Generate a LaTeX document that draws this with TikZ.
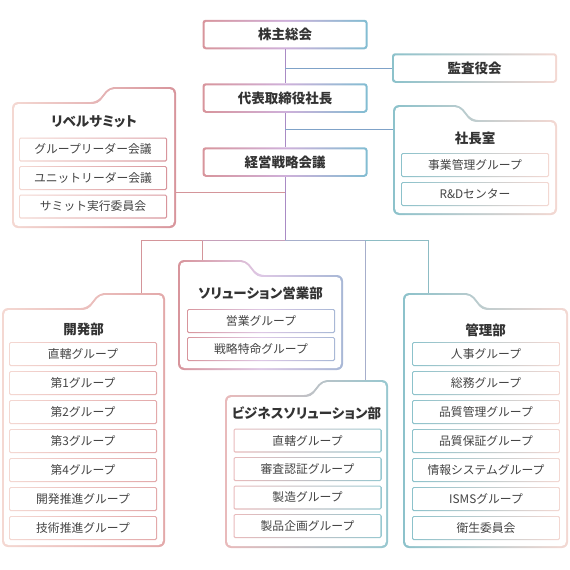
\documentclass[tikz,border=0pt]{standalone}
\usepackage{fontspec}
\setmainfont{Noto Sans CJK JP}
\newfontfamily\jptitle[RawFeature=+palt]{Noto Sans CJK JP}
\usetikzlibrary{positioning}
\definecolor{textgray}{HTML}{333333}
\definecolor{unitgray}{HTML}{444444}
\definecolor{gpink}{HTML}{D8959C}
\definecolor{glav}{HTML}{CFB0DA}
\definecolor{gblue}{HTML}{82BDD2}
\definecolor{gteal}{HTML}{8CC2CB}
\definecolor{gblush}{HTML}{F4D8D2}
\definecolor{grose}{HTML}{E3A9AA}
\definecolor{gsteel}{HTML}{A8B8D6}
\definecolor{linklav}{HTML}{A98BC5}
\definecolor{linkblue}{HTML}{7FA2C8}
\definecolor{linkpink}{HTML}{D4959A}
\definecolor{linkmix}{HTML}{C6A0BA}
\definecolor{linkgray}{HTML}{A6AECB}
\definecolor{linkteal}{HTML}{8DBCC4}
% folder outlines: x1, x2, tab top, slope start, bottom, inset
\newcommand{\tabL}[6]{({#1+#6},{#5-#6}) -- ({#1+#6},{#3+#6}) -- ({#4-0.5*#6},{#3+#6})
  -- ({#4+12-0.5*#6},{#3+15+#6}) -- ({#2-#6},{#3+15+#6}) -- ({#2-#6},{#5-#6}) -- cycle}
\newcommand{\tabR}[6]{({#1+#6},{#5-#6}) -- ({#1+#6},{#3+15+#6}) -- ({#4+0.5*#6},{#3+15+#6})
  -- ({#4+12+0.5*#6},{#3+#6}) -- ({#2-#6},{#3+#6}) -- ({#2-#6},{#5-#6}) -- cycle}

\begin{document}
\begin{tikzpicture}[x=1pt,y=-1pt,
  panel/.style={rounded corners=3pt,minimum width=165pt,minimum height=29.5pt,
    inner sep=0pt,text=textgray,font=\jptitle\bfseries\fontsize{13.5}{16}\selectfont,
    path picture={\fill[white,rounded corners=1.5pt]
      ([shift={(2pt,-2pt)}]path picture bounding box.north west) rectangle
      ([shift={(-2pt,2pt)}]path picture bounding box.south east);}},
  unit/.style={rounded corners=1.5pt,minimum width=148pt,minimum height=24pt,
    inner sep=0pt,text=unitgray,font=\fontsize{11.8}{14}\selectfont,
    path picture={\fill[white,rounded corners=1pt]
      ([shift={(1.1pt,-1.1pt)}]path picture bounding box.north west) rectangle
      ([shift={(-1.1pt,1.1pt)}]path picture bounding box.south east);}},
  head/.style={text=textgray,font=\jptitle\bfseries\fontsize{13.5}{16}\selectfont},
  tri/.style={left color=gpink,right color=gblue,middle color=glav},
  cool/.style={left color=gteal,right color=gblush},
  warm/.style={left color=gblush,right color=gpink},
  soft/.style={left color=gblush,right color=grose},
  dusk/.style={left color=gpink,right color=gsteel,middle color=glav!70},
  haze/.style={left color=grose!80,right color=gteal!90},
  link/.style={line width=1pt}
]
\useasboundingbox (0,0) rectangle (570,570);

% top column
\node[panel,tri] (kabu) at (285,34.5) {株主総会};
\node[panel,tri] (daihyo) at (285,98) {代表取締役社長};
\node[panel,tri] (keiei) at (285,162) {経営戦略会議};
\node[panel,cool] (kansa) at (474.5,68) {監査役会};

% 社長室
\shade[rounded corners=6pt,cool] \tabL{393}{557}{105}{460}{215}{0};
\fill[white,rounded corners=4.5pt] \tabL{393}{557}{105}{460}{215}{2};
\node[head] (office) at (475,138) {社長室};
\node[unit,cool] (office1) at (475,165) {事業管理グループ};
\node[unit,cool] (office2) at (475,194) {R\&Dセンター};

% リベルサミット
\shade[rounded corners=6pt,warm] \tabR{12}{176}{87}{97}{228}{0};
\fill[white,rounded corners=4.5pt] \tabR{12}{176}{87}{97}{228}{2};
\node[head] (summit) at (94,122) {リベルサミット};
\node[unit,warm] (summit1) at (93,149.5) {グループリーダー会議};
\node[unit,warm] (summit2) at (93,178) {ユニットリーダー会議};
\node[unit,warm] (summit3) at (93,206.5) {サミット実行委員会};

% 開発部
\shade[rounded corners=6pt,soft] \tabR{2}{165}{293}{87}{547}{0};
\fill[white,rounded corners=4.5pt] \tabR{2}{165}{293}{87}{547}{2};
\node[head] (dev) at (83.5,329) {開発部};
\node[unit,soft] (dev1) at (83,354) {直轄グループ};
\node[unit,soft] (dev2) at (83,383) {第1グループ};
\node[unit,soft] (dev3) at (83,412) {第2グループ};
\node[unit,soft] (dev4) at (83,441) {第3グループ};
\node[unit,soft] (dev5) at (83,470) {第4グループ};
\node[unit,soft] (dev6) at (83,499) {開発推進グループ};
\node[unit,soft] (dev7) at (83,528) {技術推進グループ};

% ソリューション営業部
\shade[rounded corners=6pt,dusk] \tabL{178}{343}{260}{246}{370}{0};
\fill[white,rounded corners=4.5pt] \tabL{178}{343}{260}{246}{370}{2};
\node[head] (sales) at (260.5,293) {ソリューション営業部};
\node[unit,dusk] (sales1) at (261,321) {営業グループ};
\node[unit,dusk] (sales2) at (261,349) {戦略特命グループ};

% ビジネスソリューション部
\shade[rounded corners=6pt,haze] \tabR{225}{388}{380}{310}{548}{0};
\fill[white,rounded corners=4.5pt] \tabR{225}{388}{380}{310}{548}{2};
\node[head] (biz) at (306.5,413) {ビジネスソリューション部};
\node[unit,haze] (biz1) at (307.5,440.5) {直轄グループ};
\node[unit,haze] (biz2) at (307.5,469) {審査認証グループ};
\node[unit,haze] (biz3) at (307.5,497.5) {製造グループ};
\node[unit,haze] (biz4) at (307.5,526) {製品企画グループ};

% 管理部
\shade[rounded corners=6pt,cool] \tabL{403}{568}{293}{471}{548}{0};
\fill[white,rounded corners=4.5pt] \tabL{403}{568}{293}{471}{548}{2};
\node[head] (mgmt) at (485.5,330) {管理部};
\node[unit,cool] (mgmt1) at (486,354) {人事グループ};
\node[unit,cool] (mgmt2) at (486,383) {総務グループ};
\node[unit,cool] (mgmt3) at (486,412) {品質管理グループ};
\node[unit,cool] (mgmt4) at (486,441) {品質保証グループ};
\node[unit,cool] (mgmt5) at (486,470) {情報システムグループ};
\node[unit,cool] (mgmt6) at (486,499) {ISMSグループ};
\node[unit,cool] (mgmt7) at (486,528) {衛生委員会};

% connectors
\coordinate (officein) at (393,129);
\coordinate (summitin) at (176,192);
\coordinate (bus) at (285,240);
\coordinate (devtab) at (141,293);
\coordinate (salestab) at (202,260);
\coordinate (biztab) at (365,380);
\coordinate (mgmttab) at (428,293);
\draw[link,linklav] (kabu.south) -- (daihyo.north);
\draw[link,linklav] (daihyo.south) -- (keiei.north);
\draw[link,linklav] (keiei.south) -- (bus);
\draw[link,linkblue] (kansa.west -| kabu.south) -- (kansa.west);
\draw[link,linkblue] (officein -| daihyo.south) -- (officein);
\draw[link,linkpink] (summitin) -- (summitin -| keiei.south);
\draw[link,linkpink] (devtab) |- (salestab |- bus);
\draw[link,linkpink] (salestab) -- (salestab |- bus);
\draw[link,linkmix] (salestab |- bus) -- (bus);
\draw[link,linkgray] (bus) -- (biztab |- bus) -- (biztab);
\draw[link,linkteal] (biztab |- bus) -| (mgmttab);
\end{tikzpicture}
\end{document}
